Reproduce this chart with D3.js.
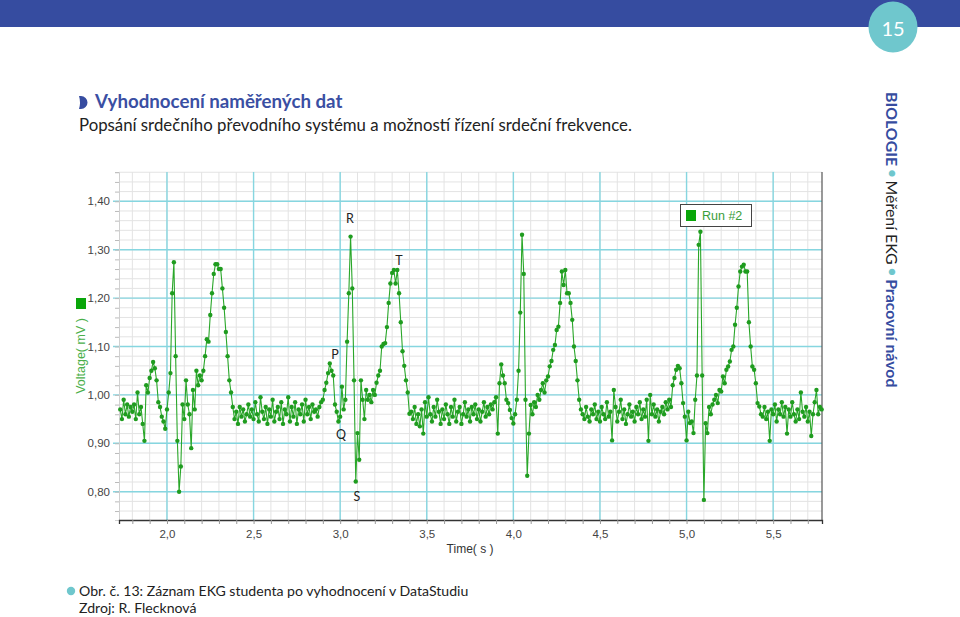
<!DOCTYPE html>
<html><head><meta charset="utf-8">
<script src="https://cdn.jsdelivr.net/npm/d3@7"></script>
<style>
html,body{margin:0;padding:0;background:#fff;}
svg{display:block;}
</style></head><body>
<svg id="c" width="960" height="617"></svg>
<script>
// ---------------- data ----------------
const slideNumber = "15";
const heading = "Vyhodnocení naměřených dat";
const subheading = "Popsání srdečního převodního systému a možností řízení srdeční frekvence.";
const sideLabels = ["BIOLOGIE", "Měření EKG", "Pracovní návod"];
const captionLines = ["Obr. č. 13: Záznam EKG studenta po vyhodnocení v DataStudiu", "Zdroj: R. Flecknová"];
const seriesName = "Run #2";
const xTitle = "Time( s )";
const yTitle = "Voltage( mV )";
const xTickValues = [2.0, 2.5, 3.0, 3.5, 4.0, 4.5, 5.0, 5.5];
const yTickValues = [0.8, 0.9, 1.0, 1.1, 1.2, 1.3, 1.4];
const xDomain = [1.723, 5.782];
const yDomain = [0.7415, 1.4605];
// sampling clock of the logger
const sampleStart = 1.73;   // s
const sampleInterval = 0.01; // s
// measured voltage (mV), one value per sample, rows of 0.1 s
const voltage = [
  0.97, 0.95, 0.99, 0.96, 0.98, 0.955, 0.975,                       // 1.73
  0.965, 0.98, 0.95, 1.005, 0.96, 0.975, 0.94, 0.905, 1.02, 1.005, // 1.80
  1.035, 1.05, 1.068, 1.055, 1.03, 0.985, 0.975, 0.955, 0.945, 0.93, // 1.90
  0.97, 1.005, 1.045, 1.21, 1.274, 1.08, 0.905, 0.80, 0.852, 0.98, // 2.00
  0.95, 1.03, 0.98, 0.96, 0.89, 1.01, 0.97, 1.05, 1.02, 1.04,      // 2.10
  1.03, 1.05, 1.08, 1.115, 1.11, 1.165, 1.21, 1.25, 1.27, 1.27,    // 2.20
  1.26, 1.26, 1.22, 1.18, 1.13, 1.08, 1.03, 1.005, 0.975, 0.95,    // 2.30
  0.965, 0.94, 0.975, 0.955, 0.97, 0.945, 0.96, 0.98, 0.955, 0.97, // 2.40
  0.95, 0.985, 0.96, 0.945, 0.995, 0.965, 0.95, 0.975, 0.94, 0.97, // 2.50
  0.955, 0.99, 0.945, 0.965, 0.975, 0.95, 0.985, 0.94, 0.97, 0.96, // 2.60
  0.995, 0.945, 0.975, 0.955, 0.985, 0.94, 0.97, 0.96, 0.98, 0.945, // 2.70
  0.99, 0.96, 0.975, 0.95, 0.98, 0.965, 0.97, 0.955, 0.975, 0.985, // 2.80
  0.99, 1.01, 1.025, 1.045, 1.065, 1.05, 1.04, 0.98, 0.965, 0.945, // 2.90
  0.955, 1.017, 0.97, 0.99, 1.11, 1.21, 1.327, 1.22, 1.03, 0.821,  // 3.00
  0.921, 0.866, 1.03, 0.99, 0.95, 1.01, 0.99, 1.00, 0.985, 1.01,   // 3.10
  1.00, 1.025, 1.04, 1.05, 1.10, 1.105, 1.107, 1.14, 1.19, 1.23,   // 3.20
  1.252, 1.258, 1.23, 1.258, 1.21, 1.15, 1.09, 1.06, 1.03, 1.005,  // 3.30
  0.961, 0.965, 0.95, 0.975, 0.94, 0.96, 0.935, 0.97, 0.92, 0.985, // 3.40
  0.955, 0.995, 0.96, 0.945, 0.975, 0.955, 0.99, 0.965, 0.94, 0.97, // 3.50
  0.95, 0.98, 0.96, 0.94, 0.975, 0.955, 0.99, 0.945, 0.965, 0.975, // 3.60
  0.94, 0.96, 0.985, 0.955, 0.97, 0.945, 0.975, 0.96, 0.98, 0.95,  // 3.70
  0.97, 0.945, 0.965, 0.985, 0.955, 0.975, 0.96, 0.98, 0.97, 0.985, // 3.80
  0.995, 0.92, 1.024, 1.063, 1.04, 1.024, 0.99, 0.983, 0.969, 0.952, // 3.90
  0.941, 0.96, 0.99, 1.05, 1.17, 1.331, 1.25, 0.99, 0.833, 0.92,   // 4.00
  0.979, 0.96, 0.985, 0.975, 1.00, 0.99, 1.01, 1.024, 1.005, 1.03, // 4.10
  1.038, 1.059, 1.07, 1.093, 1.103, 1.134, 1.141, 1.19, 1.255, 1.227, // 4.20
  1.258, 1.21, 1.21, 1.19, 1.155, 1.10, 1.07, 1.03, 0.99, 0.97,    // 4.30
  0.96, 0.95, 0.975, 0.955, 0.945, 0.97, 0.96, 0.98, 0.95, 0.965,  // 4.40
  0.945, 0.975, 0.96, 0.95, 0.985, 0.955, 0.965, 0.906, 1.01, 0.975, // 4.50
  0.945, 0.965, 0.99, 0.95, 0.97, 0.94, 0.96, 0.98, 0.955, 0.965,  // 4.60
  0.945, 0.975, 0.96, 0.985, 0.95, 0.97, 0.955, 0.99, 0.905, 1.00, // 4.70
  0.96, 0.98, 0.955, 0.97, 0.945, 0.965, 0.975, 0.96, 0.985, 0.97, // 4.80
  0.99, 0.975, 1.02, 1.035, 1.052, 1.06, 1.055, 1.024, 0.983, 0.955, // 4.90
  0.906, 0.965, 0.942, 0.945, 0.921, 0.99, 1.04, 1.31, 1.337, 1.04, // 5.00
  0.783, 0.9415, 0.921, 0.975, 0.96, 0.98, 0.99, 1.00, 0.983, 1.01, // 5.10
  1.007, 1.038, 1.024, 1.052, 1.0585, 1.069, 1.093, 1.10, 1.145, 1.18, // 5.20
  1.224, 1.255, 1.265, 1.269, 1.255, 1.255, 1.15, 1.10, 1.0585, 1.052, // 5.30
  1.024, 0.983, 0.976, 0.96, 0.955, 0.975, 0.95, 0.965, 0.905, 0.97, // 5.40
  0.96, 0.98, 0.945, 0.97, 0.96, 0.985, 0.955, 0.975, 0.92, 0.97,  // 5.50
  0.955, 0.985, 0.96, 0.945, 0.97, 0.95, 1.005, 0.965, 0.955, 0.975, // 5.60
  0.945, 0.965, 0.915, 0.96, 0.985, 1.01, 0.96, 0.975, 0.97         // 5.70
];
// wave annotations (label centre in data coordinates)
const waveLabels = ["P", "R", "T", "Q", "S"];
const waveLabelTime = [2.970, 3.057, 3.340, 3.005, 3.097];
const waveLabelVolt = [1.083, 1.364, 1.277, 0.919, 0.791];

// ---------------- drawing ----------------
const svg = d3.select("#c");
const cs = d3.formatLocale({decimal: ",", thousands: " ", grouping: [3], currency: ["", " Kč"]});
const fmt1 = cs.format(".1f"), fmt2 = cs.format(".2f");

const plot = {left: 119, right: 822, top: 172, bottom: 520};
const x = d3.scaleLinear().domain(xDomain).range([plot.left, plot.right]);
const y = d3.scaleLinear().domain(yDomain).range([plot.bottom, plot.top]);

// slide decorations
svg.append("rect").attr("x", 0).attr("y", 0).attr("width", 960).attr("height", 27).attr("fill", "#364ca0");
svg.append("ellipse").attr("cx", 893).attr("cy", 27).attr("rx", 24.5).attr("ry", 25.5).attr("fill", "#6fc7cd");
svg.append("text").attr("x", 893).attr("y", 28).attr("text-anchor", "middle").attr("dominant-baseline", "central")
  .attr("font-family", "Lato, 'Open Sans', sans-serif").attr("font-size", 20).attr("fill", "#fff").text(slideNumber);

svg.append("path").attr("d", "M79,96 L81,96 A6.5,6.5 0 0 1 81,109 L79,109 Q81,102.5 79,96 Z").attr("fill", "#364ca0");
svg.append("text").attr("x", 95).attr("y", 108).attr("font-family", "Lato, sans-serif").attr("font-size", 18.7)
  .attr("font-weight", 700).attr("fill", "#3a4fa3").text(heading);
svg.append("text").attr("x", 79).attr("y", 131).attr("font-family", "Lato, sans-serif").attr("font-size", 16.8)
  .attr("fill", "#222").text(subheading);

// side label (rotated)
const side = svg.append("text").attr("transform", "translate(893,92) rotate(90)")
  .attr("font-family", "Lato, sans-serif").attr("font-size", 15.9).attr("dominant-baseline", "central");
side.append("tspan").attr("font-weight", 700).attr("fill", "#364ca0").text(sideLabels[0]);
side.append("tspan").attr("fill", "#6fc7cd").attr("font-size", 13).text(" \u25CF ");
side.append("tspan").attr("fill", "#222").text(sideLabels[1]);
side.append("tspan").attr("fill", "#6fc7cd").attr("font-size", 13).text(" \u25CF ");
side.append("tspan").attr("font-weight", 700).attr("fill", "#364ca0").text(sideLabels[2]);

// caption
svg.append("circle").attr("cx", 71).attr("cy", 591).attr("r", 4.2).attr("fill", "#6fc7cd");
svg.selectAll("text.cap").data(captionLines).enter().append("text").attr("class", "cap")
  .attr("x", 79).attr("y", (d, i) => 596 + i * 17).attr("font-family", "Lato, sans-serif")
  .attr("font-size", 14.1).attr("fill", "#222").text(d => d);

// grid
const g = svg.append("g");
const minorX = d3.range(18, 58).map(d => d / 10);
const minorY = d3.range(38, 74).map(d => d / 50);
g.selectAll("line.mx").data(minorX).enter().append("line")
  .attr("x1", d => x(d)).attr("x2", d => x(d)).attr("y1", plot.top).attr("y2", plot.bottom)
  .attr("stroke", "#e3e3e3").attr("stroke-width", 1);
g.selectAll("line.my").data(minorY).enter().append("line")
  .attr("x1", plot.left).attr("x2", plot.right).attr("y1", d => y(d)).attr("y2", d => y(d))
  .attr("stroke", "#e3e3e3").attr("stroke-width", 1);
g.selectAll("line.Mx").data(xTickValues).enter().append("line")
  .attr("x1", d => x(d)).attr("x2", d => x(d)).attr("y1", plot.top).attr("y2", plot.bottom)
  .attr("stroke", "#86d6e0").attr("stroke-width", 1.4);
g.selectAll("line.My").data(yTickValues).enter().append("line")
  .attr("x1", plot.left - 6).attr("x2", plot.right).attr("y1", d => y(d)).attr("y2", d => y(d))
  .attr("stroke", "#86d6e0").attr("stroke-width", 1.4);

// axes
const yAxis = d3.axisLeft(y).tickValues(minorY).tickSize(4).tickFormat("");
svg.append("g").attr("transform", `translate(${plot.left},0)`).call(yAxis)
  .call(a => a.select(".domain").attr("stroke", "#d0d0d0"))
  .call(a => a.selectAll(".tick line").attr("stroke", "#bbb"));
svg.append("g").attr("transform", `translate(${plot.left},0)`)
  .call(d3.axisLeft(y).tickValues(yTickValues).tickSize(0).tickPadding(9).tickFormat(fmt2))
  .call(a => a.select(".domain").remove())
  .call(a => a.selectAll("text").attr("font-family", "'Liberation Sans', Arial, sans-serif").attr("font-size", 11.5).attr("fill", "#444"));

const xAxis = d3.axisBottom(x).tickValues(minorX).tickSize(4).tickFormat("");
svg.append("g").attr("transform", `translate(0,${plot.bottom})`).call(xAxis)
  .call(a => a.select(".domain").attr("stroke", "#333").attr("stroke-width", 1.3))
  .call(a => a.selectAll(".tick line").attr("stroke", "#999"));
svg.append("g").attr("transform", `translate(0,${plot.bottom})`)
  .call(d3.axisBottom(x).tickValues(xTickValues).tickSize(0).tickPadding(10).tickFormat(fmt1))
  .call(a => a.select(".domain").remove())
  .call(a => a.selectAll("text").attr("font-family", "'Liberation Sans', Arial, sans-serif").attr("font-size", 11.5).attr("fill", "#444"));
svg.append("line").attr("x1", plot.right).attr("x2", plot.right).attr("y1", plot.top).attr("y2", plot.bottom)
  .attr("stroke", "#555").attr("stroke-width", 1.2);

svg.append("text").attr("x", (x(3.5) + x(4.0)) / 2).attr("y", 549).attr("text-anchor", "middle")
  .attr("dominant-baseline", "central").attr("font-family", "'Liberation Sans', Arial, sans-serif")
  .attr("font-size", 12).attr("fill", "#333").text(xTitle);
svg.append("text").attr("transform", `translate(81,${(plot.top + plot.bottom) / 2 + 10}) rotate(-90)`)
  .attr("text-anchor", "middle").attr("dominant-baseline", "central")
  .attr("font-family", "'Liberation Sans', Arial, sans-serif").attr("font-size", 12.5).attr("fill", "#4aaf4a").text(yTitle);
svg.append("rect").attr("x", 76).attr("y", 298).attr("width", 10).attr("height", 11).attr("fill", "#0aa60a");

// series
const pts = voltage.map((v, i) => ({t: sampleStart + i * sampleInterval, v}));
const line = d3.line().x(d => x(d.t)).y(d => y(d.v));
svg.append("path").datum(pts).attr("d", line).attr("fill", "none").attr("stroke", "#2aa72a").attr("stroke-width", 1.1);
svg.append("g").selectAll("circle").data(pts).enter().append("circle")
  .attr("cx", d => x(d.t)).attr("cy", d => y(d.v)).attr("r", 2.2).attr("fill", "#1f9c1f");

// wave labels
svg.selectAll("text.wave").data(waveLabels).enter().append("text").attr("class", "wave")
  .attr("x", (d, i) => x(waveLabelTime[i])).attr("y", (d, i) => y(waveLabelVolt[i]))
  .attr("text-anchor", "middle").attr("dominant-baseline", "central")
  .attr("font-family", "Lato, 'Open Sans', sans-serif").attr("font-size", 12.5).attr("fill", "#222").text(d => d);

// legend
const lg = svg.append("g");
lg.append("rect").attr("x", 680.5).attr("y", 204.5).attr("width", 71).attr("height", 22)
  .attr("fill", "#fff").attr("stroke", "#444").attr("stroke-width", 1);
lg.append("rect").attr("x", 686).attr("y", 210).attr("width", 10).attr("height", 11).attr("fill", "#0aa60a");
lg.append("text").attr("x", 702).attr("y", 216).attr("dominant-baseline", "central")
  .attr("font-family", "'Liberation Sans', Arial, sans-serif").attr("font-size", 12.5).attr("fill", "#3a9e3a").text(seriesName);
</script>
</body></html>
